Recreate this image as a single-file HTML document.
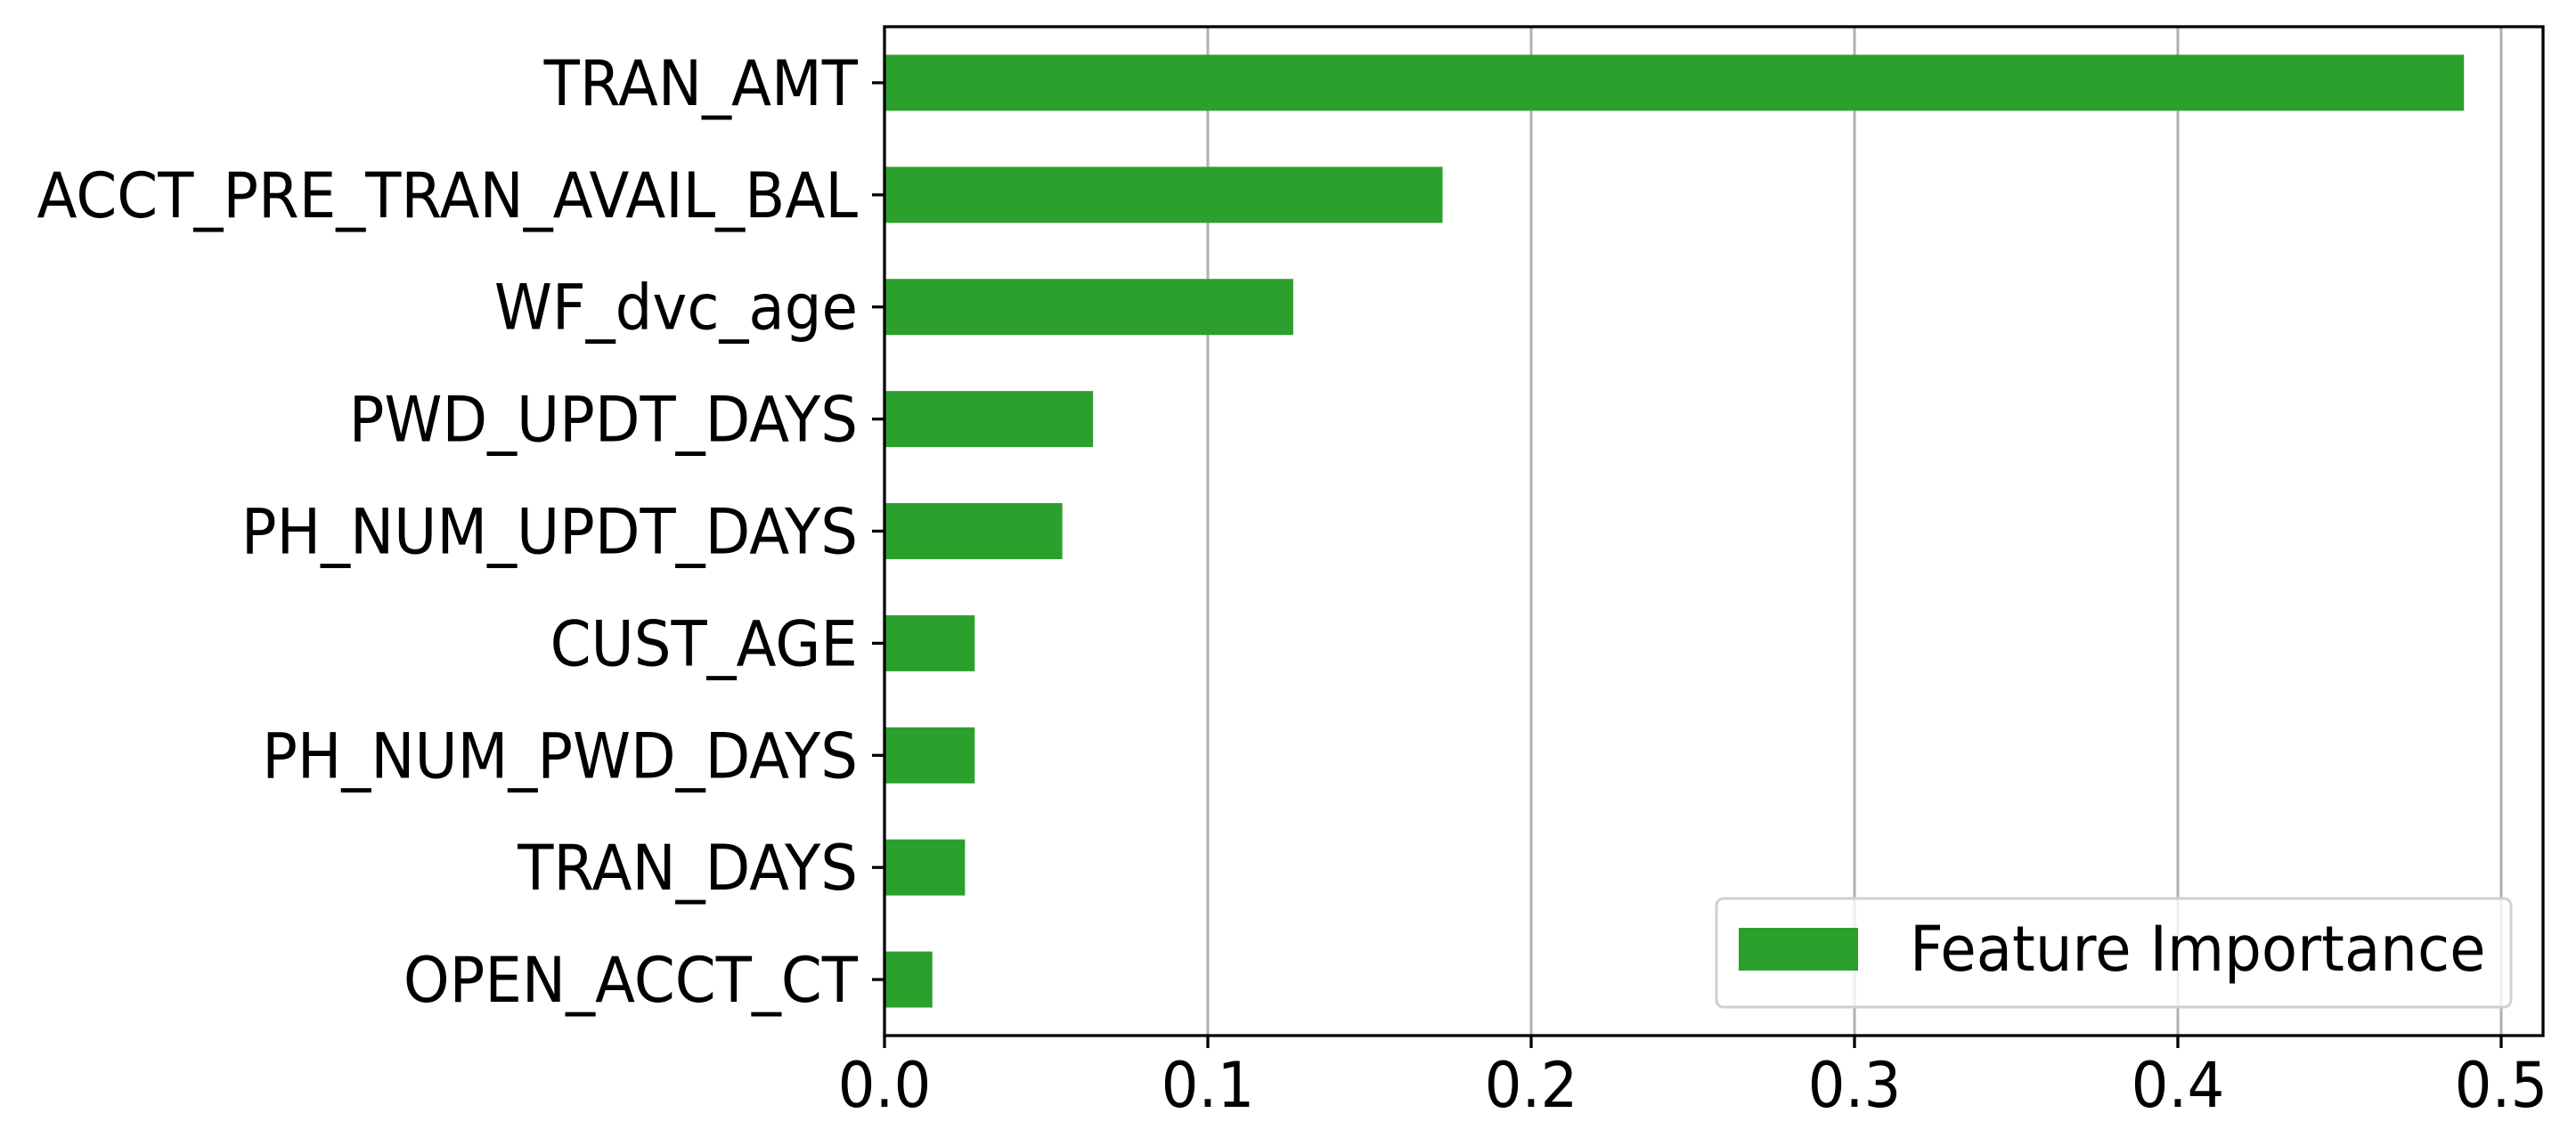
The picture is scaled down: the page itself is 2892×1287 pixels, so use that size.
<!DOCTYPE html>
<html><head><meta charset="utf-8"><style>
html,body{margin:0;padding:0;background:#fff;}
svg{display:block;font-family:"DejaVu Sans","Liberation Sans",sans-serif;}
</style></head><body>
<svg id="chart" width="2892" height="1287" viewBox="0 0 2892 1287">
<g id="grid"></g>
<g id="bars"></g>
<g id="axes"></g>
<g id="legend"></g>
</svg>
<script>
const categories = ["TRAN_AMT","ACCT_PRE_TRAN_AVAIL_BAL","WF_dvc_age","PWD_UPDT_DAYS","PH_NUM_UPDT_DAYS","CUST_AGE","PH_NUM_PWD_DAYS","TRAN_DAYS","OPEN_ACCT_CT"];
const importance = [0.4885,0.1726,0.1264,0.0645,0.0550,0.0279,0.0279,0.0249,0.0148];
const xTicks = [0,0.1,0.2,0.3,0.4,0.5];
const xTickLabels = ["0.0","0.1","0.2","0.3","0.4","0.5"];

const NS="http://www.w3.org/2000/svg";
const L=993,R=2855,T=30,B=1163;
const FS=70, SQ=0.94;
const xMax=(R-L)/3630;
function xs(v){return L+(v/xMax)*(R-L);}
const band=(B-T)/categories.length;
function yc(i){return T+band*(i+0.5);}
function mk(tag,attrs,parent){const e=document.createElementNS(NS,tag);for(const k in attrs)e.setAttribute(k,attrs[k]);parent.appendChild(e);return e;}
function squeeze(t){const w=t.getComputedTextLength();t.setAttribute('textLength',w*SQ);t.setAttribute('lengthAdjust','spacingAndGlyphs');}
const grid=document.getElementById('grid'),bars=document.getElementById('bars'),axes=document.getElementById('axes'),legend=document.getElementById('legend');

xTicks.forEach((t,i)=>{
  const x=xs(t);
  const g=mk('line',{x1:x,x2:x,y1:T,y2:B,stroke:'#b0b0b0','stroke-width':3},grid);
  
  
  const tk=mk('line',{x1:x,x2:x,y1:B,y2:B+14,stroke:'#000','stroke-width':3.3},axes);
  
  
  const tx=mk('text',{x:x,y:1243,'font-size':FS,'text-anchor':'middle',fill:'#000'},axes);
  tx.textContent=xTickLabels[i];
  
  
  squeeze(tx);
});

categories.forEach((c,i)=>{
  const y=yc(i),h=band*0.5;
  const r=mk('rect',{x:L,y:y-h/2,width:xs(importance[i])-L,height:h,fill:'#2ca02c'},bars);
  
  
  const tk=mk('line',{x1:L-14,x2:L,y1:y,y2:y,stroke:'#000','stroke-width':3.3},axes);
  
  
  const tx=mk('text',{x:L-30,y:y+25,'font-size':FS,'text-anchor':'end',fill:'#000'},axes);
  tx.textContent=c;
  
  
  squeeze(tx);
});

const frame=mk('rect',{x:L,y:T,width:R-L,height:B-T,fill:'none',stroke:'#000','stroke-width':3.3},axes);



const lb=mk('rect',{x:1927,y:1009,width:892,height:122,rx:8,fill:'#fff','fill-opacity':0.8,stroke:'#d0d0d0','stroke-width':3},legend);


const lp=mk('rect',{x:1952,y:1042,width:134,height:48,fill:'#2ca02c'},legend);


const lt=mk('text',{x:2144,y:1090,'font-size':FS,fill:'#000'},legend);
lt.textContent='Feature Importance';


squeeze(lt);
</script>
</body></html>
